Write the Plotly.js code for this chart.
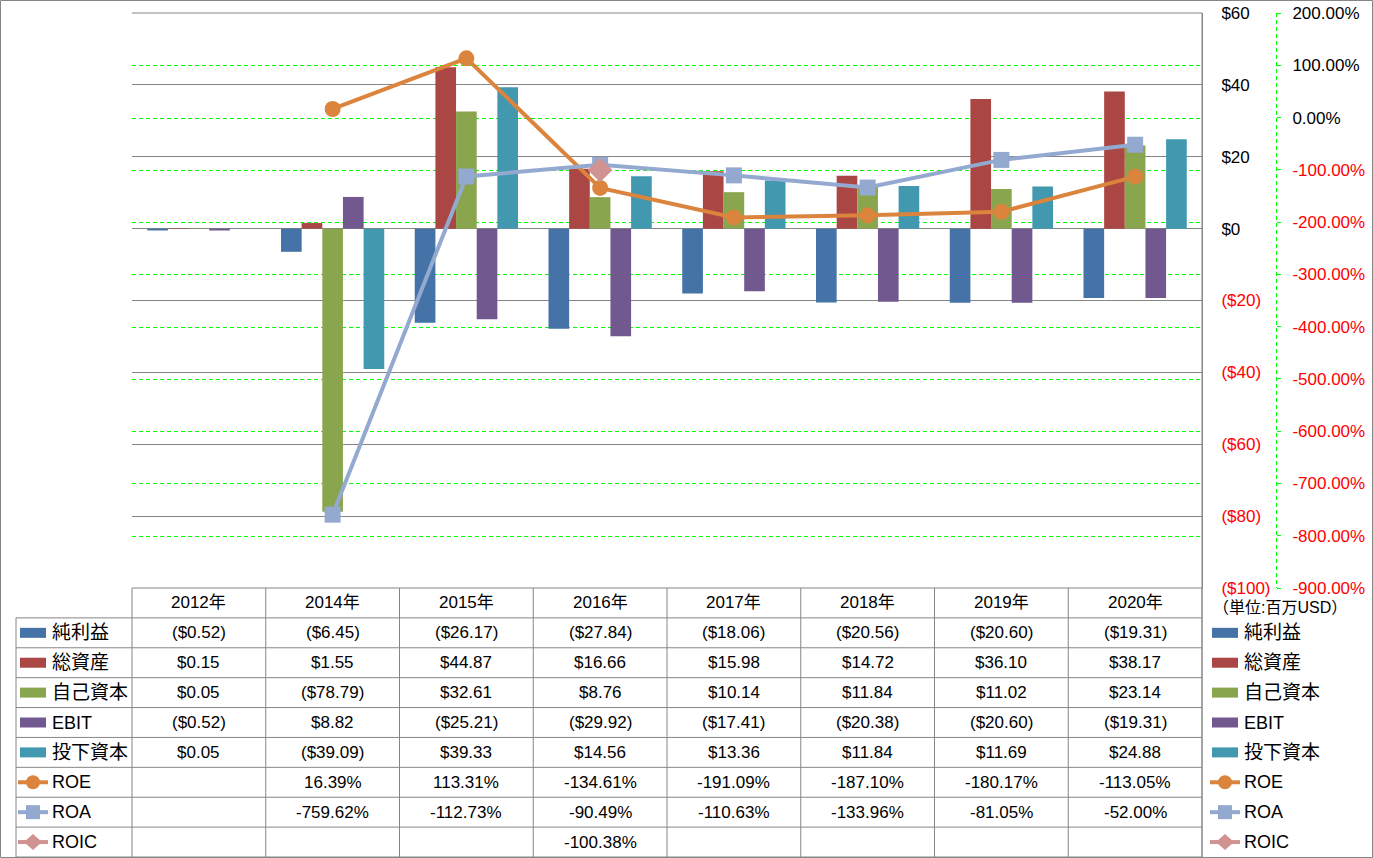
<!DOCTYPE html>
<html><head><meta charset="utf-8">
<script src="https://cdn.plot.ly/plotly-3.0.1.min.js"></script>
<style>html,body{margin:0;padding:0;background:#fff;overflow:hidden}</style>
</head><body><div id="chart" style="width:1373px;height:858px"></div>
<script>
// ---- data ----
const years = ['2012年','2014年','2015年','2016年','2017年','2018年','2019年','2020年'];
const netIncome       = [-0.52, -6.45, -26.17, -27.84, -18.06, -20.56, -20.60, -19.31];
const totalAssets     = [0.15, 1.55, 44.87, 16.66, 15.98, 14.72, 36.10, 38.17];
const equity          = [0.05, -78.79, 32.61, 8.76, 10.14, 11.84, 11.02, 23.14];
const ebit            = [-0.52, 8.82, -25.21, -29.92, -17.41, -20.38, -20.60, -19.31];
const investedCapital = [0.05, -39.09, 39.33, 14.56, 13.36, 11.84, 11.69, 24.88];
const roe  = [null, 16.39, 113.31, -134.61, -191.09, -187.10, -180.17, -113.05];
const roa  = [null, -759.62, -112.73, -90.49, -110.63, -133.96, -81.05, -52.00];
const roic = [null, null, null, -100.38, null, null, null, null];
const barNames  = ['純利益','総資産','自己資本','EBIT','投下資本'];
const lineNames = ['ROE','ROA','ROIC'];
const usdTicks = [60, 40, 20, 0, -20, -40, -60, -80, -100];
const pctTicks = [200, 100, 0, -100, -200, -300, -400, -500, -600, -700, -800, -900];
const unitLabel = '（単位:百万USD）';

// ---- styles ----
const barColors  = ['#4572A7','#AA4643','#89A54E','#71588F','#4198AF'];
const lineColors = ['#DB843D','#93A9CF','#D19392'];
const lineSymbols = ['circle','square','diamond'];
const FONT = "'Liberation Sans','Noto Sans CJK JP',sans-serif";
const RED = '#FF0000';
const GRID = '#868686';
const GREEN = '#00FF00';

// ---- geometry (pixels) ----
const W = 1373, H = 858, L = 132, PR = 1202, Y2X = 1276, T = 13, PB = 588;
const paperW = W - L - (W - Y2X), paperH = PB - T;
const fx = px => (px - L) / paperW;
const fy = py => (PB - py) / paperH;
const rowH = (857 - PB) / 9;
const colW = (PR - L) / years.length;
const Y2MIN = -900, Y2MAX = 200;

const barSeries = [netIncome, totalAssets, equity, ebit, investedCapital];
const lineSeries = [roe, roa, roic];

const traces = [];
barSeries.forEach((vals, i) => traces.push({
  type: 'bar', x: years, y: vals, name: barNames[i],
  marker: {color: barColors[i], line: {width: 0}}, yaxis: 'y', xaxis: 'x'
}));
lineSeries.forEach((vals, i) => traces.push({
  type: 'scatter', mode: 'lines+markers', x: years, y: vals, name: lineNames[i],
  line: {color: lineColors[i], width: 4}, connectgaps: false,
  marker: {symbol: lineSymbols[i], size: i === 2 ? 19 : 16, color: lineColors[i]},
  yaxis: 'y2', xaxis: 'x'
}));

const usdText = v => v < 0 ? '($' + Math.abs(v).toFixed(0) + ')' : '$' + v.toFixed(0);
const usdCell = v => v < 0 ? '($' + Math.abs(v).toFixed(2) + ')' : '$' + v.toFixed(2);
const pctCell = v => v.toFixed(2) + '%';
const redIf = (v, s) => v < 0 ? '<span style="color:' + RED + '">' + s + '</span>' : s;

const shapes = [];
const annotations = [];
const line = (x0, y0, x1, y1, extra) => shapes.push(Object.assign({
  type: 'line', xref: 'paper', yref: 'paper', x0: fx(x0), x1: fx(x1), y0: fy(y0), y1: fy(y1),
  line: {color: GRID, width: 1}
}, extra || {}));

// green dashed percent gridlines (pixel-snapped)
pctTicks.forEach(v => {
  if (v === Y2MAX || v === Y2MIN) return;
  const py = Math.round(T + (Y2MAX - v) / (Y2MAX - Y2MIN) * paperH) + 0.5;
  shapes.push({type: 'line', xref: 'paper', yref: 'paper', layer: 'below',
    x0: fx(L), x1: fx(PR), y0: fy(py), y1: fy(py), line: {color: GREEN, width: 1, dash: '4px,3px'}});
});

// plot top line and table grid
line(L, T, PR, T);
line(L, PB, PR, PB);
for (let k = 1; k <= 9; k++) line(16, PB + rowH * k, PR, PB + rowH * k);
line(16, PB + rowH, 16, 857);
for (let k = 0; k <= years.length; k++) line(L + colW * k, PB, L + colW * k, 857);
line(PR, T, PR, 857);
// secondary axis dashed line
line(Y2X + 0.5, T, Y2X + 0.5, PB, {line: {color: GREEN, width: 1, dash: '4px,3px'}});
// outer border
shapes.push({type: 'rect', xref: 'paper', yref: 'paper', x0: fx(0.5), x1: fx(1372.5), y0: fy(0.5), y1: fy(857.5), line: {color: GRID, width: 1}});

const cellFont = {family: FONT, size: 17, color: '#000'};
const rowCenter = i => PB + rowH * (i + 0.5);

// header
years.forEach(y => annotations.push({xref: 'x', yref: 'paper', x: y, y: fy(rowCenter(0)), text: y,
  showarrow: false, xanchor: 'center', yanchor: 'middle', font: cellFont}));
// value rows
barSeries.forEach((vals, i) => vals.forEach((v, j) => annotations.push({
  xref: 'x', yref: 'paper', x: years[j], y: fy(rowCenter(i + 1)), text: usdCell(v),
  showarrow: false, xanchor: 'center', yanchor: 'middle', font: cellFont})));
lineSeries.forEach((vals, i) => vals.forEach((v, j) => { if (v !== null) annotations.push({
  xref: 'x', yref: 'paper', x: years[j], y: fy(rowCenter(i + 6)), text: pctCell(v),
  showarrow: false, xanchor: 'center', yanchor: 'middle', font: cellFont}); }));

// legend keys (left in table and right side)
const allNames = barNames.concat(lineNames);
function legendKey(i, kx0, kx1, tx) {
  const c = rowCenter(i + 1);
  const isCJK = /[^\x00-\x7F]/.test(allNames[i]);
  annotations.push({xref: 'paper', yref: 'paper', x: fx(tx), y: fy(c), text: allNames[i],
    showarrow: false, xanchor: 'left', yanchor: 'middle',
    font: {family: FONT, size: isCJK ? 19 : 18, color: '#000'}});
  if (i < 5) {
    shapes.push({type: 'rect', xref: 'paper', yref: 'paper', x0: fx(kx0 + 2), x1: fx(kx1 - 2),
      y0: fy(c + 5), y1: fy(c - 5), fillcolor: barColors[i], line: {width: 0}});
  } else {
    const li = i - 5, col = lineColors[li], m = (kx0 + kx1) / 2;
    line(kx0, c, kx1, c, {line: {color: col, width: 4}});
    if (li === 0) shapes.push({type: 'circle', xref: 'paper', yref: 'paper', x0: fx(m - 7), x1: fx(m + 7),
      y0: fy(c + 7), y1: fy(c - 7), fillcolor: col, line: {width: 0}});
    else if (li === 1) shapes.push({type: 'rect', xref: 'paper', yref: 'paper', x0: fx(m - 7), x1: fx(m + 7),
      y0: fy(c + 7), y1: fy(c - 7), fillcolor: col, line: {width: 0}});
    else shapes.push({type: 'path', xref: 'paper', yref: 'paper',
      path: 'M' + fx(m - 9) + ',' + fy(c) + ' L' + fx(m) + ',' + fy(c - 8) + ' L' + fx(m + 9) + ',' + fy(c) +
            ' L' + fx(m) + ',' + fy(c + 8) + ' Z', fillcolor: col, line: {width: 0}});
  }
}
allNames.forEach((n, i) => { legendKey(i, 18, 48, 50); legendKey(i, 1210, 1240, 1242); });
annotations.push({xref: 'paper', yref: 'paper', x: fx(1211), y: fy(607), text: unitLabel,
  showarrow: false, xanchor: 'left', yanchor: 'middle', font: {family: FONT, size: 16, color: '#000'}});

const layout = {
  width: W, height: H,
  margin: {l: L, r: W - Y2X, t: T, b: H - PB, pad: 0},
  paper_bgcolor: '#fff', plot_bgcolor: '#fff',
  font: {family: FONT, size: 17, color: '#000'},
  showlegend: false,
  barmode: 'group', bargap: 0.228, bargroupgap: 0,
  xaxis: {domain: [0, (PR - L) / paperW], type: 'category', categoryarray: years,
    showticklabels: false, showgrid: false, zeroline: false, showline: false, ticks: '', fixedrange: true},
  yaxis: {side: 'right', anchor: 'x', range: [-100, 60], tickvals: usdTicks,
    ticktext: usdTicks.map(v => redIf(v, usdText(v))),
    showgrid: true, gridcolor: GRID, gridwidth: 1, zeroline: false,
    showline: true, linecolor: GRID, linewidth: 1, ticks: '', ticklabelstandoff: 15,
    tickfont: {family: FONT, size: 17, color: '#000'}},
  yaxis2: {overlaying: 'y', side: 'right', anchor: 'free', position: 1, range: [Y2MIN, Y2MAX],
    tickvals: pctTicks, ticktext: pctTicks.map(v => redIf(v, pctCell(v))),
    showgrid: false, zeroline: false,
    showline: false, ticks: 'outside', ticklen: 4, tickcolor: GREEN, ticklabelstandoff: 8,
    tickfont: {family: FONT, size: 17, color: '#000'}},
  shapes: shapes,
  annotations: annotations
};

Plotly.newPlot('chart', traces, layout, {staticPlot: true, displayModeBar: false});
</script></body></html>
